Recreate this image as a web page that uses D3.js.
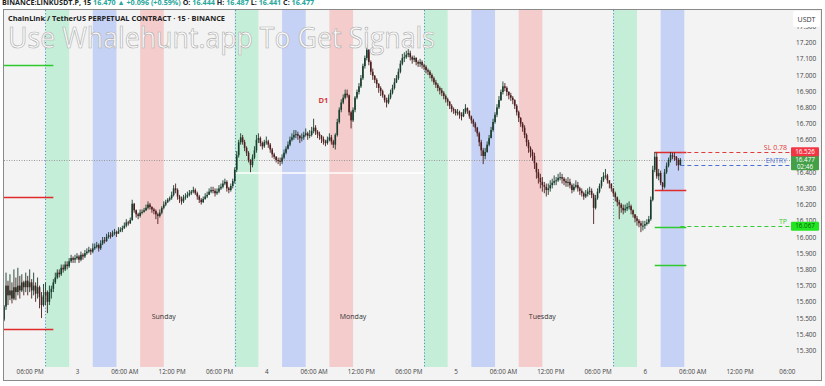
<!DOCTYPE html>
<html>
<head>
<meta charset="utf-8">
<script src="https://cdn.jsdelivr.net/npm/d3@7"></script>
<style>
  body { margin: 0; background: #fff; font-family: "Open Sans", "Noto Sans", sans-serif; }
  svg text { font-family: "Open Sans", "Noto Sans", sans-serif; }
</style>
</head>
<body>
<svg id="chart" width="825" height="386"></svg>
<script>
// LINKUSDT.P 15m candles, Dec 2 14:45 -> Dec 6 04:30 (UTC)
var firstOpen = 15.49;
var closes = [
  15.57,15.70,15.64,15.67,15.62,15.69,15.66,15.70,15.67,15.72,15.69,15.73,
  15.69,15.72,15.67,15.70,15.65,15.69,15.63,15.58,15.64,15.66,15.60,15.66,
  15.68,15.72,15.75,15.78,15.77,15.81,15.80,15.83,15.82,15.85,15.87,15.86,
  15.87,15.88,15.86,15.89,15.88,15.90,15.91,15.92,15.91,15.93,15.94,15.95,
  15.93,15.96,15.98,15.975,16.00,16.01,16.005,16.025,16.03,16.02,16.035,16.045,
  16.055,16.07,16.09,16.085,16.105,16.205,16.165,16.14,16.13,16.15,16.155,16.165,
  16.18,16.20,16.185,16.17,16.16,16.14,16.13,16.15,16.18,16.20,16.215,16.23,
  16.24,16.26,16.30,16.29,16.25,16.235,16.22,16.245,16.25,16.26,16.27,16.28,
  16.29,16.27,16.25,16.23,16.215,16.235,16.25,16.26,16.28,16.29,16.285,16.27,
  16.28,16.30,16.31,16.33,16.34,16.30,16.29,16.315,16.345,16.415,16.505,16.585,
  16.615,16.585,16.55,16.52,16.475,16.445,16.49,16.535,16.60,16.61,16.58,16.56,
  16.585,16.59,16.57,16.54,16.51,16.495,16.475,16.47,16.465,16.49,16.52,16.545,
  16.57,16.60,16.615,16.63,16.635,16.625,16.61,16.615,16.63,16.64,16.625,16.63,
  16.655,16.675,16.65,16.635,16.625,16.605,16.59,16.58,16.60,16.615,16.59,16.57,
  16.63,16.71,16.785,16.83,16.86,16.885,16.875,16.77,16.72,16.785,16.86,16.895,
  16.93,16.98,17.055,17.105,17.155,17.08,17.02,16.995,16.97,16.945,16.92,16.90,
  16.875,16.845,16.83,16.86,16.89,16.92,16.955,16.98,17.02,17.07,17.105,17.11,
  17.125,17.135,17.11,17.095,17.105,17.08,17.07,17.08,17.06,17.05,17.03,17.02,
  17.00,16.98,16.955,16.94,16.92,16.905,16.89,16.87,16.85,16.835,16.81,16.79,
  16.78,16.765,16.77,16.755,16.745,16.77,16.795,16.78,16.745,16.72,16.70,16.675,
  16.64,16.585,16.535,16.50,16.525,16.57,16.61,16.66,16.71,16.755,16.80,16.845,
  16.895,16.93,16.92,16.895,16.875,16.86,16.845,16.81,16.77,16.735,16.70,16.675,
  16.63,16.585,16.55,16.525,16.50,16.455,16.40,16.365,16.34,16.32,16.31,16.29,
  16.30,16.32,16.335,16.345,16.35,16.365,16.37,16.36,16.345,16.335,16.34,16.32,
  16.29,16.31,16.32,16.30,16.285,16.27,16.25,16.265,16.28,16.285,16.26,16.18,
  16.24,16.28,16.315,16.35,16.375,16.38,16.35,16.33,16.30,16.27,16.245,16.215,
  16.20,16.18,16.165,16.175,16.185,16.19,16.165,16.14,16.115,16.10,16.085,16.07,
  16.07,16.08,16.09,16.11,16.23,16.415,16.495,16.375,16.395,16.335,16.31,16.40,
  16.44,16.475,16.505,16.50,16.495,16.475,16.444,16.477
];
var highs = [
  15.58,15.78,15.73,15.77,15.72,15.80,15.75,15.81,15.76,15.77,15.73,15.78,
  15.76,15.80,15.74,15.78,15.72,15.75,15.70,15.66,15.71,15.72,15.67,15.70,
  15.70,15.74,15.78,15.80,15.80,15.83,15.83,15.85,15.85,15.87,15.89,15.88,
  15.89,15.90,15.89,15.91,15.90,15.92,15.93,15.94,15.93,15.96,15.96,15.97,
  15.96,15.98,16.00,16.00,16.02,16.03,16.03,16.04,16.05,16.04,16.06,16.06,
  16.07,16.09,16.11,16.10,16.12,16.23,16.21,16.17,16.15,16.17,16.17,16.18,
  16.20,16.22,16.21,16.19,16.18,16.17,16.15,16.17,16.19,16.22,16.23,16.24,
  16.25,16.28,16.32,16.33,16.30,16.26,16.25,16.26,16.27,16.28,16.29,16.29,
  16.31,16.30,16.28,16.26,16.24,16.25,16.27,16.28,16.30,16.31,16.31,16.30,
  16.30,16.32,16.33,16.35,16.36,16.35,16.31,16.33,16.36,16.43,16.53,16.60,
  16.64,16.63,16.60,16.56,16.53,16.48,16.51,16.56,16.63,16.64,16.62,16.59,
  16.60,16.62,16.60,16.58,16.55,16.52,16.50,16.49,16.49,16.51,16.54,16.56,
  16.59,16.62,16.64,16.66,16.66,16.65,16.63,16.64,16.65,16.67,16.65,16.66,
  16.68,16.73,16.69,16.66,16.65,16.63,16.62,16.60,16.62,16.64,16.63,16.60,
  16.64,16.73,16.80,16.85,16.88,16.91,16.91,16.88,16.78,16.80,16.87,16.91,
  16.95,17.00,17.07,17.12,17.19,17.16,17.09,17.04,17.00,16.98,16.95,16.93,
  16.91,16.88,16.86,16.88,16.91,16.94,16.98,17.00,17.04,17.09,17.13,17.14,
  17.15,17.16,17.15,17.12,17.12,17.11,17.09,17.10,17.09,17.07,17.06,17.04,
  17.03,17.01,16.99,16.97,16.95,16.93,16.92,16.90,16.88,16.86,16.84,16.82,
  16.80,16.79,16.79,16.78,16.77,16.79,16.82,16.80,16.78,16.75,16.73,16.71,
  16.68,16.65,16.60,16.55,16.55,16.59,16.63,16.68,16.73,16.77,16.82,16.87,
  16.91,16.96,16.95,16.93,16.90,16.89,16.87,16.85,16.82,16.78,16.74,16.71,
  16.69,16.64,16.60,16.56,16.54,16.52,16.46,16.42,16.39,16.37,16.34,16.33,
  16.33,16.35,16.36,16.38,16.37,16.39,16.40,16.39,16.37,16.36,16.37,16.36,
  16.33,16.33,16.35,16.34,16.31,16.30,16.28,16.29,16.30,16.31,16.30,16.27,
  16.26,16.30,16.33,16.37,16.40,16.42,16.39,16.35,16.33,16.30,16.28,16.25,
  16.23,16.21,16.20,16.20,16.21,16.22,16.20,16.17,16.14,16.13,16.11,16.10,
  16.10,16.10,16.11,16.13,16.25,16.44,16.525,16.52,16.42,16.41,16.34,16.42,
  16.46,16.49,16.525,16.52,16.52,16.50,16.487,16.487
];
var lows = [
  15.48,15.55,15.58,15.61,15.59,15.61,15.61,15.64,15.62,15.66,15.64,15.66,
  15.64,15.66,15.62,15.64,15.60,15.62,15.56,15.50,15.57,15.58,15.53,15.58,
  15.62,15.66,15.71,15.74,15.75,15.76,15.78,15.79,15.80,15.81,15.84,15.84,
  15.84,15.86,15.84,15.85,15.86,15.87,15.89,15.90,15.89,15.90,15.92,15.93,
  15.91,15.92,15.95,15.96,15.97,15.99,15.99,16.00,16.01,16.00,16.02,16.03,
  16.03,16.05,16.06,16.07,16.08,16.10,16.15,16.12,16.11,16.12,16.14,16.15,
  16.16,16.17,16.17,16.15,16.14,16.11,16.08,16.12,16.14,16.17,16.19,16.21,
  16.22,16.23,16.25,16.27,16.23,16.21,16.20,16.21,16.23,16.24,16.25,16.26,
  16.27,16.26,16.23,16.21,16.20,16.21,16.23,16.24,16.26,16.27,16.27,16.25,
  16.26,16.27,16.29,16.30,16.32,16.28,16.27,16.28,16.30,16.33,16.40,16.49,
  16.57,16.57,16.53,16.50,16.46,16.40,16.43,16.48,16.52,16.58,16.56,16.54,
  16.55,16.57,16.55,16.52,16.49,16.48,16.46,16.45,16.44,16.45,16.48,16.51,
  16.54,16.56,16.59,16.60,16.61,16.60,16.58,16.59,16.60,16.62,16.60,16.61,
  16.62,16.64,16.63,16.61,16.60,16.58,16.57,16.56,16.57,16.59,16.57,16.55,
  16.54,16.62,16.70,16.77,16.82,16.85,16.86,16.75,16.67,16.71,16.77,16.85,
  16.88,16.92,16.97,17.04,17.09,17.06,17.00,16.97,16.95,16.92,16.89,16.87,
  16.86,16.83,16.80,16.82,16.85,16.88,16.91,16.95,16.97,17.01,17.06,17.08,
  17.10,17.11,17.09,17.07,17.08,17.06,17.05,17.05,17.04,17.03,17.01,17.00,
  16.98,16.96,16.94,16.92,16.90,16.88,16.87,16.85,16.83,16.81,16.79,16.77,
  16.76,16.75,16.75,16.73,16.72,16.74,16.76,16.76,16.73,16.70,16.68,16.65,
  16.62,16.56,16.50,16.45,16.48,16.52,16.56,16.62,16.65,16.70,16.74,16.79,
  16.84,16.88,16.90,16.87,16.85,16.84,16.82,16.79,16.75,16.71,16.68,16.65,
  16.61,16.56,16.52,16.49,16.47,16.42,16.36,16.33,16.30,16.28,16.27,16.25,
  16.26,16.28,16.30,16.32,16.32,16.34,16.35,16.33,16.32,16.31,16.31,16.30,
  16.27,16.28,16.30,16.28,16.26,16.25,16.23,16.24,16.25,16.26,16.24,16.08,
  16.17,16.23,16.27,16.30,16.34,16.36,16.33,16.30,16.28,16.25,16.22,16.19,
  16.11,16.15,16.14,16.15,16.16,16.17,16.14,16.12,16.09,16.07,16.06,16.03,
  16.04,16.05,16.07,16.08,16.10,16.22,16.40,16.36,16.35,16.32,16.29,16.30,
  16.39,16.43,16.46,16.48,16.47,16.44,16.41,16.441
];

var priceTicks = [15.3,15.4,15.5,15.6,15.7,15.8,15.9,16.0,16.1,16.2,16.3,16.4,16.5,16.6,16.7,16.8,16.9,17.0,17.1,17.2,17.3];
var timeLabels = ["06:00 PM","3","06:00 AM","12:00 PM","06:00 PM","4","06:00 AM","12:00 PM",
                  "06:00 PM","5","06:00 AM","12:00 PM","06:00 PM","6","06:00 AM","12:00 PM","06:00"];
var dayNames = ["Sunday", "Monday", "Tuesday"];
// session boxes per day from 20:00: asia (+0h), london (+6h), new york (+12h), 3h each
var sessionKinds = ["asia","london","ny"];
var sessionDays = [0, 1, 2, 3];
// levels drawn from the indicator
var levelPrices = [17.062, 16.247, 15.432, 16.526, 16.290, 16.060, 15.830];
var levelKinds  = ["up", "down", "down", "down", "down", "up", "up"];
var trade = { sl: 16.526, entry: 16.444, tp: 16.067, last: 16.477, countdown: "02:46" };

var H = 3600 * 1000;
var t0 = Date.UTC(2023, 11, 2, 14, 45);
var step = 15 * 60 * 1000;
var lastT = t0 + (closes.length - 1) * step;

var candles = closes.map(function(c, i) {
  var o = i === 0 ? firstOpen : closes[i - 1];
  return { t: new Date(t0 + i * step), o: o, c: c,
           h: Math.max(highs[i], o, c), l: Math.min(lows[i], o, c) };
});

var svg = d3.select("#chart");
var x = d3.scaleUtc()
  .domain([new Date(Date.UTC(2023, 11, 2, 14, 37)), new Date(Date.UTC(2023, 11, 6, 18, 24))])
  .range([3, 790]);
var y = d3.scaleLinear().domain([15.2, 17.4]).range([366.6, 10.2]);

// frame
svg.append("rect").attr("x", 3.5).attr("y", 9.5).attr("width", 818).attr("height", 371)
  .attr("fill", "#f3f3f3").attr("stroke", "#8a8a8a").attr("stroke-width", 1);

svg.append("clipPath").attr("id", "plot").append("rect")
  .attr("x", 4).attr("y", 10).attr("width", 786).attr("height", 357);

var plot = svg.append("g").attr("clip-path", "url(#plot)");

// sessions
var sessColor = { asia: "#c5eed8", london: "#c6d2f5", ny: "#f5cccc" };
var sessStart = Date.UTC(2023, 11, 2, 20, 0);
sessionDays.forEach(function(d) {
  sessionKinds.forEach(function(k, j) {
    var s = sessStart + d * 24 * H + j * 6 * H;
    if (s > lastT) return;
    plot.append("rect")
      .attr("x", x(new Date(s))).attr("y", 10)
      .attr("width", x(new Date(s + 3 * H)) - x(new Date(s))).attr("height", 357)
      .attr("fill", sessColor[k]);
  });
});

// day separators at 20:00
sessionDays.forEach(function(d) {
  var xx = Math.round(x(new Date(sessStart + d * 24 * H))) + 0.5;
  plot.append("line").attr("x1", xx).attr("x2", xx).attr("y1", 10).attr("y2", 367)
    .attr("stroke", "#4a86c5").attr("stroke-width", 0.9).attr("stroke-dasharray", "1.2,2");
});

// day names
dayNames.forEach(function(n, i) {
  plot.append("text").attr("x", x(new Date(Date.UTC(2023, 11, 3 + i, 11, 0)))).attr("y", 319)
    .attr("text-anchor", "middle").attr("font-size", 7).attr("fill", "#333").text(n);
});

// white line
plot.append("line")
  .attr("x1", x(new Date(sessStart + 24 * H))).attr("x2", x(new Date(sessStart + 48 * H)))
  .attr("y1", y(16.395)).attr("y2", y(16.395)).attr("stroke", "#fff").attr("stroke-width", 1.5);

// last price line
plot.append("line").attr("x1", 4).attr("x2", 790)
  .attr("y1", Math.round(y(trade.last)) + 0.5).attr("y2", Math.round(y(trade.last)) + 0.5)
  .attr("stroke", "#9a9a9a").attr("stroke-width", 1).attr("stroke-dasharray", "1,1.5");

// levels
var levelColor = { up: "#2ec92e", down: "#e02b2b" };
levelPrices.forEach(function(p, i) {
  var a, b;
  if (i < 3) { a = Date.UTC(2023, 11, 2, 14, 37); b = Date.UTC(2023, 11, 2, 21, 0); }
  else { a = Date.UTC(2023, 11, 6, 1, 15); b = Date.UTC(2023, 11, 6, 5, 15); }
  var yy = Math.round(y(p)) + 0.5;
  plot.append("line").attr("x1", x(new Date(a))).attr("x2", x(new Date(b)))
    .attr("y1", yy).attr("y2", yy).attr("stroke", levelColor[levelKinds[i]]).attr("stroke-width", 1.3);
});

// candles
var upC = "#173d2c", dnC = "#4d1d1d";
var cg = plot.append("g");
cg.selectAll("line.w").data(candles).enter().append("line")
  .attr("x1", function(d) { return x(d.t); }).attr("x2", function(d) { return x(d.t); })
  .attr("y1", function(d) { return y(d.h); }).attr("y2", function(d) { return y(d.l); })
  .attr("stroke", function(d) { return d.c >= d.o ? upC : dnC; }).attr("stroke-width", 0.9);
cg.selectAll("rect.b").data(candles).enter().append("rect")
  .attr("x", function(d) { return x(d.t) - 0.8; }).attr("width", 1.6)
  .attr("y", function(d) { return y(Math.max(d.o, d.c)); })
  .attr("height", function(d) { return Math.max(1, Math.abs(y(d.o) - y(d.c))); })
  .attr("fill", function(d) { return d.c >= d.o ? upC : dnC; });

// trade lines
var tStart = x(new Date(lastT));
[[trade.sl, "#e03a3a", "SL 0.78"], [trade.entry, "#4a6fd6", "ENTRY"], [trade.tp, "#33cc33", "TP"]]
  .forEach(function(r) {
    var yy = Math.round(y(r[0])) + 0.5;
    plot.append("line").attr("x1", tStart).attr("x2", 790).attr("y1", yy).attr("y2", yy)
      .attr("stroke", r[1]).attr("stroke-width", 1.2).attr("stroke-dasharray", "4,3");
    plot.append("text").attr("x", 787).attr("y", yy - 3).attr("text-anchor", "end")
      .attr("font-size", 7).attr("fill", r[1]).text(r[2]);
  });

// D1 label
plot.append("text").attr("x", x(new Date(Date.UTC(2023, 11, 4, 7, 15)))).attr("y", y(16.83))
  .attr("text-anchor", "middle").attr("font-size", 7.5).attr("font-weight", "bold")
  .attr("fill", "#d63a3a").text("D1");

// watermark
svg.append("text").attr("x", 8).attr("y", 48).attr("font-size", 29)
  .attr("font-family", "'Liberation Sans', Arial, sans-serif")
  .attr("textLength", 427).attr("lengthAdjust", "spacingAndGlyphs")
  .attr("fill", "#ffffff").attr("fill-opacity", 0.92)
  .attr("stroke", "#b0b0b0").attr("stroke-width", 0.7)
  .text("Use Whalehunt.app To Get Signals");

// price axis
var ya = svg.append("g").attr("transform", "translate(796,0)")
  .call(d3.axisRight(y).tickValues(priceTicks).tickFormat(d3.format(".3f")).tickSize(0).tickPadding(0));
ya.select(".domain").remove();
ya.selectAll("text").attr("font-size", 6.5).attr("fill", "#444").attr("font-family", "'Open Sans', sans-serif");

// time axis
var timeTicks = timeLabels.map(function(_, i) { return new Date(Date.UTC(2023, 11, 2, 18, 0) + i * 6 * H); });
var xa = svg.append("g").attr("transform", "translate(0,368)")
  .call(d3.axisBottom(x).tickValues(timeTicks).tickFormat(function(d, i) { return timeLabels[i]; })
    .tickSize(0).tickPadding(2));
xa.select(".domain").remove();
xa.selectAll("text").attr("font-size", 6.3).attr("fill", "#444").attr("font-family", "'Open Sans', sans-serif");

// USDT box
svg.append("rect").attr("x", 793).attr("y", 11).attr("width", 27).attr("height", 16).attr("rx", 2).attr("fill", "#fff");
svg.append("text").attr("x", 806.5).attr("y", 21.5).attr("text-anchor", "middle")
  .attr("font-size", 7).attr("fill", "#333").text("USDT");

// price tags
function tag(p, h, bg, fg, lines) {
  var yy = y(p);
  svg.append("rect").attr("x", 791).attr("y", yy - 4.5).attr("width", 28).attr("height", h).attr("rx", 1).attr("fill", bg);
  lines.forEach(function(s, i) {
    svg.append("text").attr("x", 805).attr("y", yy + 2.2 + i * 7).attr("text-anchor", "middle")
      .attr("font-size", 6.3).attr("fill", fg).text(s);
  });
}
tag(trade.last, 15, "#43a047", "#fff", [d3.format(".3f")(trade.last), trade.countdown]);
tag(trade.sl, 9, "#f23645", "#fff", [d3.format(".3f")(trade.sl)]);
tag(trade.tp, 9, "#22e622", "#0d5f0d", [d3.format(".3f")(trade.tp)]);

// titles
svg.append("text").attr("x", 8).attr("y", 21).attr("font-size", 7.4).attr("font-weight", "bold")
  .attr("fill", "#222").text("ChainLink / TetherUS PERPETUAL CONTRACT · 15 · BINANCE");

var hdr = svg.append("text").attr("x", 2).attr("y", 5).attr("font-size", 7.2).attr("font-weight", "bold").attr("fill", "#222");
hdr.append("tspan").text("BINANCE:LINKUSDT.P, 15  ");
hdr.append("tspan").attr("fill", "#26a69a").text("16.470 ▲ +0.096 (+0.59%)  ");
hdr.append("tspan").text("O: ");
hdr.append("tspan").attr("fill", "#26a69a").text("16.444  ");
hdr.append("tspan").text("H: ");
hdr.append("tspan").attr("fill", "#26a69a").text("16.487  ");
hdr.append("tspan").text("L: ");
hdr.append("tspan").attr("fill", "#26a69a").text("16.441  ");
hdr.append("tspan").text("C: ");
hdr.append("tspan").attr("fill", "#26a69a").text("16.477");
</script>
</body>
</html>
